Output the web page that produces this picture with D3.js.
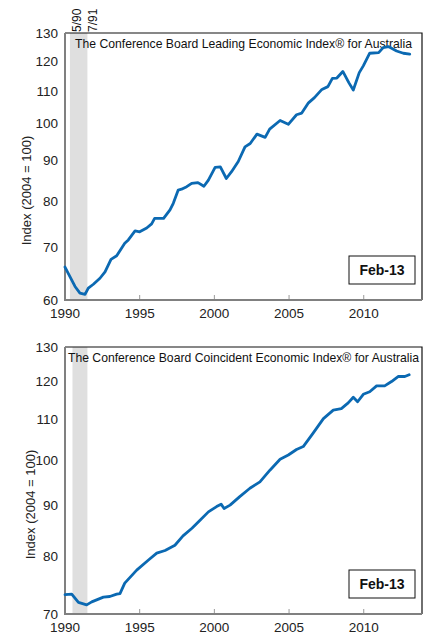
<!DOCTYPE html>
<html>
<head>
<meta charset="utf-8">
<script src="https://cdn.jsdelivr.net/npm/d3@7"></script>
<style>
  body { margin: 0; background: #fff; }
  svg { display: block; font-family: "Liberation Sans", Arial, sans-serif; }
</style>
</head>
<body>
<svg id="chart" width="446" height="640"></svg>
<script>
// values (year as decimal, index 2004 = 100)
const leadingIndex = [
  [1990.0, 66.0], [1990.33, 64.2], [1990.67, 62.4], [1991.0, 61.2], [1991.34, 61.0],
  [1991.56, 62.1], [1991.9, 62.8], [1992.34, 63.9], [1992.68, 65.1], [1993.08, 67.5],
  [1993.46, 68.2], [1994.0, 70.7], [1994.24, 71.4], [1994.69, 73.3], [1995.0, 73.1],
  [1995.47, 73.9], [1995.8, 74.8], [1996.0, 76.0], [1996.6, 76.0], [1997.03, 77.9],
  [1997.25, 79.4], [1997.58, 82.5], [1997.8, 82.7], [1998.15, 83.3], [1998.48, 84.1],
  [1998.9, 84.3], [1999.3, 83.4], [1999.6, 84.9], [2000.05, 88.1], [2000.4, 88.2],
  [2000.8, 85.3], [2001.15, 87.0], [2001.6, 89.6], [2002.05, 93.5], [2002.4, 94.4],
  [2002.85, 97.0], [2003.4, 96.1], [2003.7, 98.4], [2004.4, 100.9], [2004.95, 99.8],
  [2005.5, 102.6], [2005.85, 103.1], [2006.3, 106.2], [2006.7, 107.8], [2007.2, 110.4],
  [2007.6, 111.3], [2007.9, 114.0], [2008.2, 114.1], [2008.6, 116.3], [2009.0, 112.6],
  [2009.3, 110.2], [2009.7, 115.9], [2009.97, 118.2], [2010.4, 122.6], [2011.0, 122.8],
  [2011.3, 124.6], [2011.65, 125.0], [2012.2, 123.4], [2012.65, 122.6], [2013.08, 122.3]
];

const coincidentIndex = [
  [1990.0, 73.2], [1990.45, 73.3], [1990.9, 71.9], [1991.45, 71.5], [1991.79, 72.0],
  [1992.57, 72.8], [1993.0, 72.9], [1993.46, 73.3], [1993.68, 73.4], [1994.0, 75.2],
  [1994.8, 77.5], [1995.57, 79.3], [1996.14, 80.6], [1996.7, 81.1], [1997.36, 82.1],
  [1997.9, 83.9], [1998.5, 85.4], [1999.04, 87.0], [1999.6, 88.7], [2000.15, 89.8],
  [2000.45, 90.3], [2000.65, 89.4], [2001.05, 90.1], [2001.7, 91.9], [2002.38, 93.7],
  [2003.05, 95.1], [2003.72, 97.7], [2004.4, 100.2], [2004.95, 101.2], [2005.5, 102.5],
  [2005.95, 103.2], [2006.6, 106.4], [2007.3, 110.1], [2007.96, 112.3], [2008.5, 112.7],
  [2008.96, 114.2], [2009.3, 115.7], [2009.59, 114.5], [2009.97, 116.5], [2010.4, 117.2],
  [2010.86, 118.8], [2011.4, 118.8], [2011.86, 120.0], [2012.3, 121.4], [2012.75, 121.4],
  [2013.04, 121.9]
];

const xTickYears = [1990, 1995, 2000, 2005, 2010];
const leadingTicks = [60, 70, 80, 90, 100, 110, 120, 130];
const coincidentTicks = [70, 80, 90, 100, 110, 120, 130];
const leadingRecession = [1990.33, 1991.5];
const coincidentRecession = [1990.5, 1991.5];
const recessionLabels = ["5/90", "7/91"];
const latestLabel = "Feb-13";

const svg = d3.select("#chart");
const lineColor = "#0b69b2";

function drawPanel({ top, bottom, series, ticks, recession, title, yTitleX, showRecessionLabels }) {
    const left = 65, right = 422;
    const x = d3.scaleLinear().domain([1990, 2013.9]).range([left, right]);
    const y = d3.scaleLog().domain([ticks[0], ticks[ticks.length - 1]]).range([bottom, top]);
    const g = svg.append("g");

    // recession shading
    g.append("rect")
        .attr("x", x(recession[0])).attr("y", top)
        .attr("width", x(recession[1]) - x(recession[0])).attr("height", bottom - top)
        .attr("fill", "#dfdfdf");

    // frame: dark top/right, grey axes left/bottom
    g.append("path")
        .attr("d", `M${left},${top}H${right}V${bottom}`)
        .attr("fill", "none").attr("stroke", "#111").attr("stroke-width", 1.2);

    // x ticks point inward
    g.selectAll(".xt").data(xTickYears.slice(1)).join("line")
        .attr("x1", d => x(d)).attr("x2", d => x(d))
        .attr("y1", bottom).attr("y2", bottom - 5)
        .attr("stroke", "#999").attr("stroke-width", 1);

    g.append("path")
        .attr("d", `M${left},${top}V${bottom}H${right}`)
        .attr("fill", "none").attr("stroke", "#808080").attr("stroke-width", 2);

    g.selectAll(".xl").data(xTickYears).join("text")
        .attr("x", d => x(d)).attr("y", bottom + 18)
        .attr("text-anchor", "middle").attr("font-size", 13.5).attr("fill", "#222")
        .text(d => d);

    g.selectAll(".yl").data(ticks).join("text")
        .attr("x", 58).attr("y", d => y(d)).attr("dy", "0.36em")
        .attr("text-anchor", "end").attr("font-size", 13.5).attr("fill", "#222")
        .text(d => d);

    g.append("text")
        .attr("transform", `translate(${yTitleX},${(top + bottom) / 2 + 24}) rotate(-90)`)
        .attr("text-anchor", "middle").attr("dy", "0.35em")
        .attr("font-size", 13).attr("fill", "#222")
        .text("Index (2004 = 100)");

    g.append("text")
        .attr("x", (left + right) / 2).attr("y", top + 15)
        .attr("text-anchor", "middle").attr("font-size", 12.2).attr("fill", "#111")
        .text(title);

    if (showRecessionLabels) {
        g.selectAll(".rl").data(recession).join("text")
            .attr("transform", (d, i) => `translate(${x(d) + (i ? 10 : 11)},${top - 1}) rotate(-90)`)
            .attr("font-size", 12).attr("fill", "#111")
            .text((d, i) => recessionLabels[i]);
    }

    const line = d3.line().x(d => x(d[0])).y(d => y(d[1]));
    g.append("path")
        .datum(series)
        .attr("d", line)
        .attr("fill", "none").attr("stroke", lineColor)
        .attr("stroke-width", 2.8).attr("stroke-linejoin", "round").attr("stroke-linecap", "round");

    // latest month box
    const bw = 66, bh = 28, bx = right - 7 - bw, by = bottom - 16 - bh;
    g.append("rect")
        .attr("x", bx).attr("y", by).attr("width", bw).attr("height", bh)
        .attr("fill", "#fff").attr("stroke", "#111").attr("stroke-width", 1);
    g.append("text")
        .attr("x", bx + bw / 2).attr("y", by + bh / 2).attr("dy", "0.36em")
        .attr("text-anchor", "middle").attr("font-size", 14).attr("font-weight", "bold")
        .attr("fill", "#111")
        .text(latestLabel);
}

drawPanel({
    top: 33, bottom: 300, series: leadingIndex, ticks: leadingTicks,
    recession: leadingRecession, yTitleX: 26, showRecessionLabels: true,
    title: "The Conference Board Leading Economic Index® for Australia"
});

drawPanel({
    top: 347, bottom: 614, series: coincidentIndex, ticks: coincidentTicks,
    recession: coincidentRecession, yTitleX: 30, showRecessionLabels: false,
    title: "The Conference Board Coincident Economic Index® for Australia"
});
</script>
</body>
</html>
